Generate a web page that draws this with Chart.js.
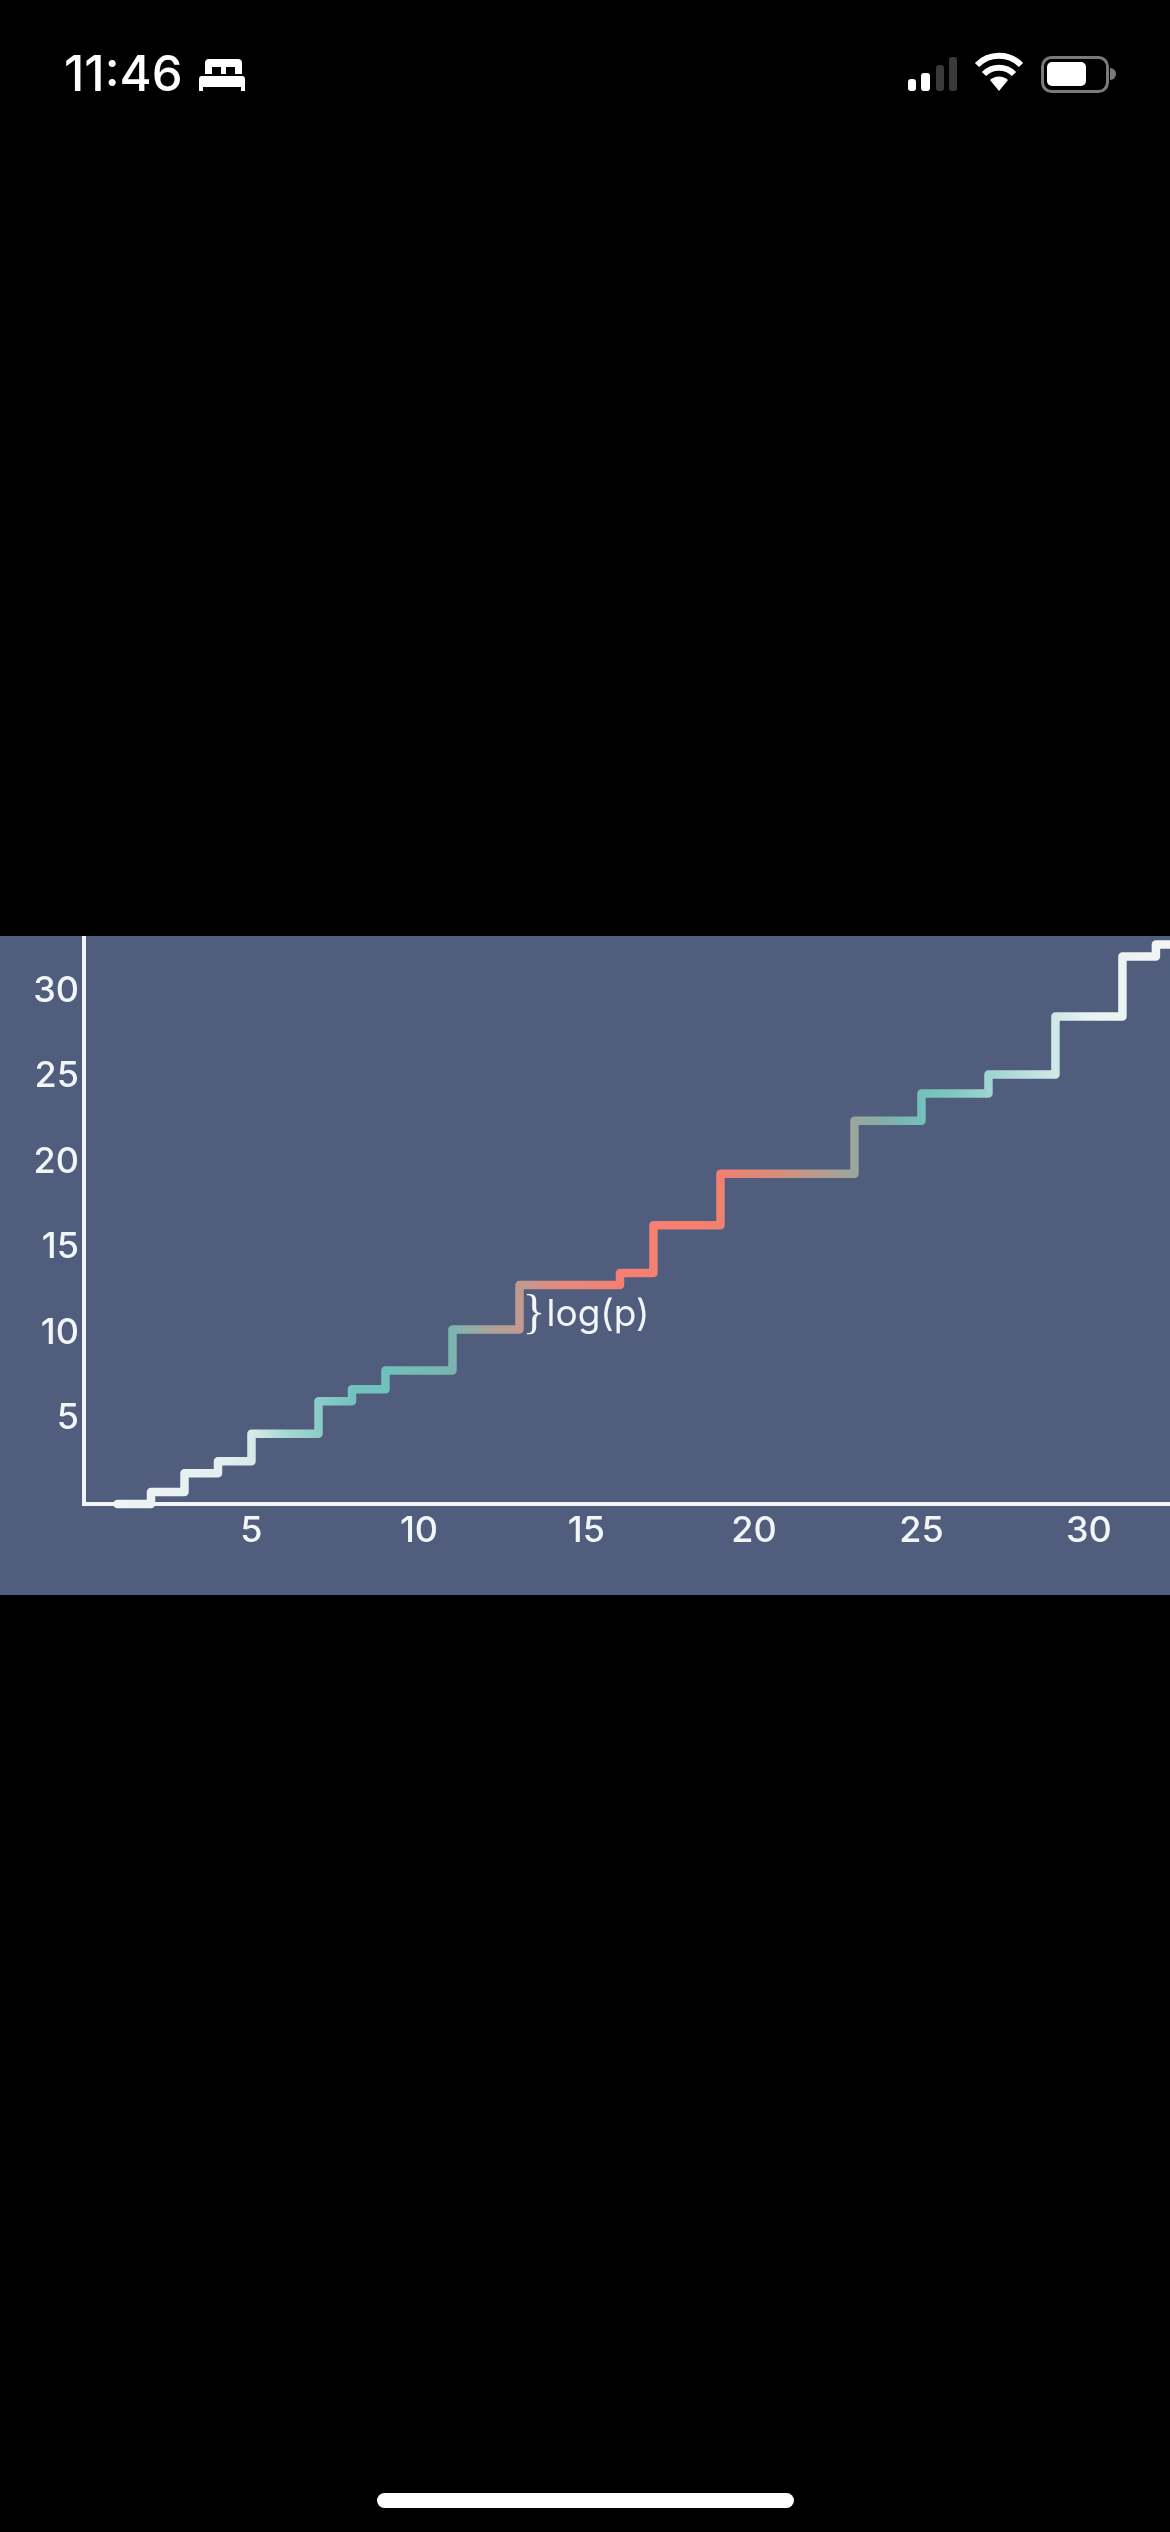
<!DOCTYPE html>
<html>
<head>
<meta charset="utf-8">
<title>log(p) staircase</title>
<script src="https://cdn.jsdelivr.net/npm/chart.js@4"></script>
<style>
  html, body { margin: 0; padding: 0; background: #000; width: 1170px; height: 2532px; overflow: hidden; }
  .clock { position: absolute; left: 64px; top: 46px; color: #fff; font: 500 49px/56px Inter, sans-serif; }
  .status { position: absolute; left: 0; top: 0; }
  .panel { position: absolute; left: 0; top: 936px; width: 1170px; height: 659px; background: #505d7c; }
  .home { position: absolute; left: 377px; top: 2493px; width: 417px; height: 15px; border-radius: 8px; background: #fff; }
</style>
</head>
<body>

<div class="clock">11:46</div>
<svg class="status" width="1170" height="110">
  <!-- bed -->
  <path d="M204 59h34a4 4 0 0 1 4 4v11h-7v-7h-9v7h-5v-7h-9v7h-7V63a4 4 0 0 1 3-4z" fill="#fff"/>
  <path d="M201 76h41a3 3 0 0 1 3 3v12h-4v-4h-38v4h-4V79a3 3 0 0 1 2-3z" fill="#fff"/>
  <!-- signal -->
  <rect x="908" y="79" width="8" height="12" rx="3" fill="#fff"/>
  <rect x="921" y="73" width="9" height="18" rx="3" fill="#fff"/>
  <rect x="936" y="65" width="8" height="26" rx="3" fill="#3a3a3a"/>
  <rect x="949" y="57" width="8" height="34" rx="3" fill="#3a3a3a"/>
  <!-- wifi -->
  <path d="M999 91l-9-11a13 13 0 0 1 18 0z" fill="#fff"/>
  <path d="M984 74a21 21 0 0 1 30 0" stroke="#fff" stroke-width="6" fill="none"/>
  <path d="M977 65a31 31 0 0 1 44 0" stroke="#fff" stroke-width="6" fill="none"/>
  <!-- battery -->
  <rect x="1042.5" y="57.5" width="65" height="34" rx="9" fill="none" stroke="#7a7a7a" stroke-width="3"/>
  <rect x="1047" y="62" width="39" height="24" rx="5" fill="#fff"/>
  <path d="M1110 68a6 6 0 0 1 0 12z" fill="#7a7a7a"/>
</svg>

<div class="panel"><canvas id="stairChart" width="1170" height="659"></canvas></div>
<div class="home"></div>

<script>
/* ── DATA ─────────────────────────────────────── */
const stepX = [1, 2, 3, 4, 5, 7, 8, 9, 11, 13, 16, 17, 19, 23, 25, 27, 29, 31, 32, 33];
const stepY = [0, 0.7, 1.8, 2.5, 4.1, 6.0, 6.7, 7.8, 10.2, 12.8, 13.5, 16.3, 19.3, 22.4, 24.0, 25.1, 28.5, 32.0, 32.7, 32.7];

const xTicks = [5, 10, 15, 20, 25, 30];
const yTicks = [5, 10, 15, 20, 25, 30];

const xMax = 32.42;
const yMax = 33.2;

// Colour along the line, by x value
const colorX = [1, 4, 5, 6, 7, 8, 9, 11, 12, 13, 14, 16, 18, 19, 21, 23, 24, 25, 26, 27, 29, 30, 32];
const colorHex = ['#f0f4f6', '#e4efef', '#d8eae8', '#a8d8d4', '#8cccc8', '#74c2bf', '#70c0bc', '#7ab5b0',
                  '#a8a69e', '#c09a90', '#e08c80', '#f47f72', '#f67f72', '#f08070', '#d0907f', '#9aa69c',
                  '#80b0aa', '#74c0ba', '#80c8c2', '#a0d4d0', '#cfe8e6', '#e8f2f4', '#f0f4f2'];

const noteText = 'log(p)';
const noteBrace = '}';
const noteX = 13.33;
const noteY = 10.2;

/* ── HELPERS ──────────────────────────────────── */
function lineColor(ctx) {
  const { chart } = ctx;
  const area = chart.chartArea;
  if (!area) return colorHex[0];
  const g = chart.ctx.createLinearGradient(area.left, 0, area.right, 0);
  colorX.forEach((v, i) => g.addColorStop(v / xMax, colorHex[i]));
  return g;
}

// Small inline plugin for the "}log(p)" note next to the step at 13
const notePlugin = {
  id: 'note',
  afterDatasetsDraw(chart) {
    const c = chart.ctx;
    const px = chart.scales.x.getPixelForValue(noteX);
    const py = chart.scales.y.getPixelForValue(noteY);
    c.save();
    c.fillStyle = '#f2f5f7';
    c.textBaseline = 'alphabetic';
    c.textAlign = 'left';
    c.font = '400 48px "Liberation Serif"';
    c.fillText(noteBrace, px - 8, py - 1);
    c.font = '400 37px Inter';
    c.fillText(noteText, px + 16, py - 3);
    c.restore();
  }
};

/* ── CHART ────────────────────────────────────── */
const axisFont = { family: 'Inter', size: 36, weight: '500' };

new Chart(document.getElementById('stairChart'), {
  type: 'line',
  data: {
    datasets: [{
      data: stepX.map((x, i) => ({ x, y: stepY[i] })),
      stepped: true,
      borderColor: lineColor,
      borderWidth: 8.5,
      borderJoinStyle: 'round',
      borderCapStyle: 'round',
      pointRadius: 0,
      clip: false,
      fill: false
    }]
  },
  options: {
    responsive: false,
    devicePixelRatio: 1,
    animation: false,
    layout: { padding: 0 },
    plugins: { legend: { display: false }, tooltip: { enabled: false } },
    scales: {
      x: {
        type: 'linear', min: 0, max: xMax,
        grid: { display: false, drawTicks: false },
        border: { display: true, color: '#f2f5f7', width: 4 },
        afterBuildTicks: s => { s.ticks = xTicks.map(value => ({ value })); },
        afterFit: s => { s.height = 91; s.paddingLeft = 0; s.paddingRight = 0; },
        ticks: { font: axisFont, color: '#f2f5f7', padding: 6, maxRotation: 0, autoSkip: false }
      },
      y: {
        type: 'linear', min: 0, max: yMax,
        grid: { display: false, drawTicks: false },
        border: { display: true, color: '#f2f5f7', width: 4 },
        afterBuildTicks: s => { s.ticks = yTicks.map(value => ({ value })); },
        afterFit: s => { s.width = 84; s.paddingTop = 0; s.paddingBottom = 0; },
        ticks: { font: axisFont, color: '#f2f5f7', padding: 5, autoSkip: false }
      }
    }
  },
  plugins: [notePlugin]
});
</script>
</body>
</html>
